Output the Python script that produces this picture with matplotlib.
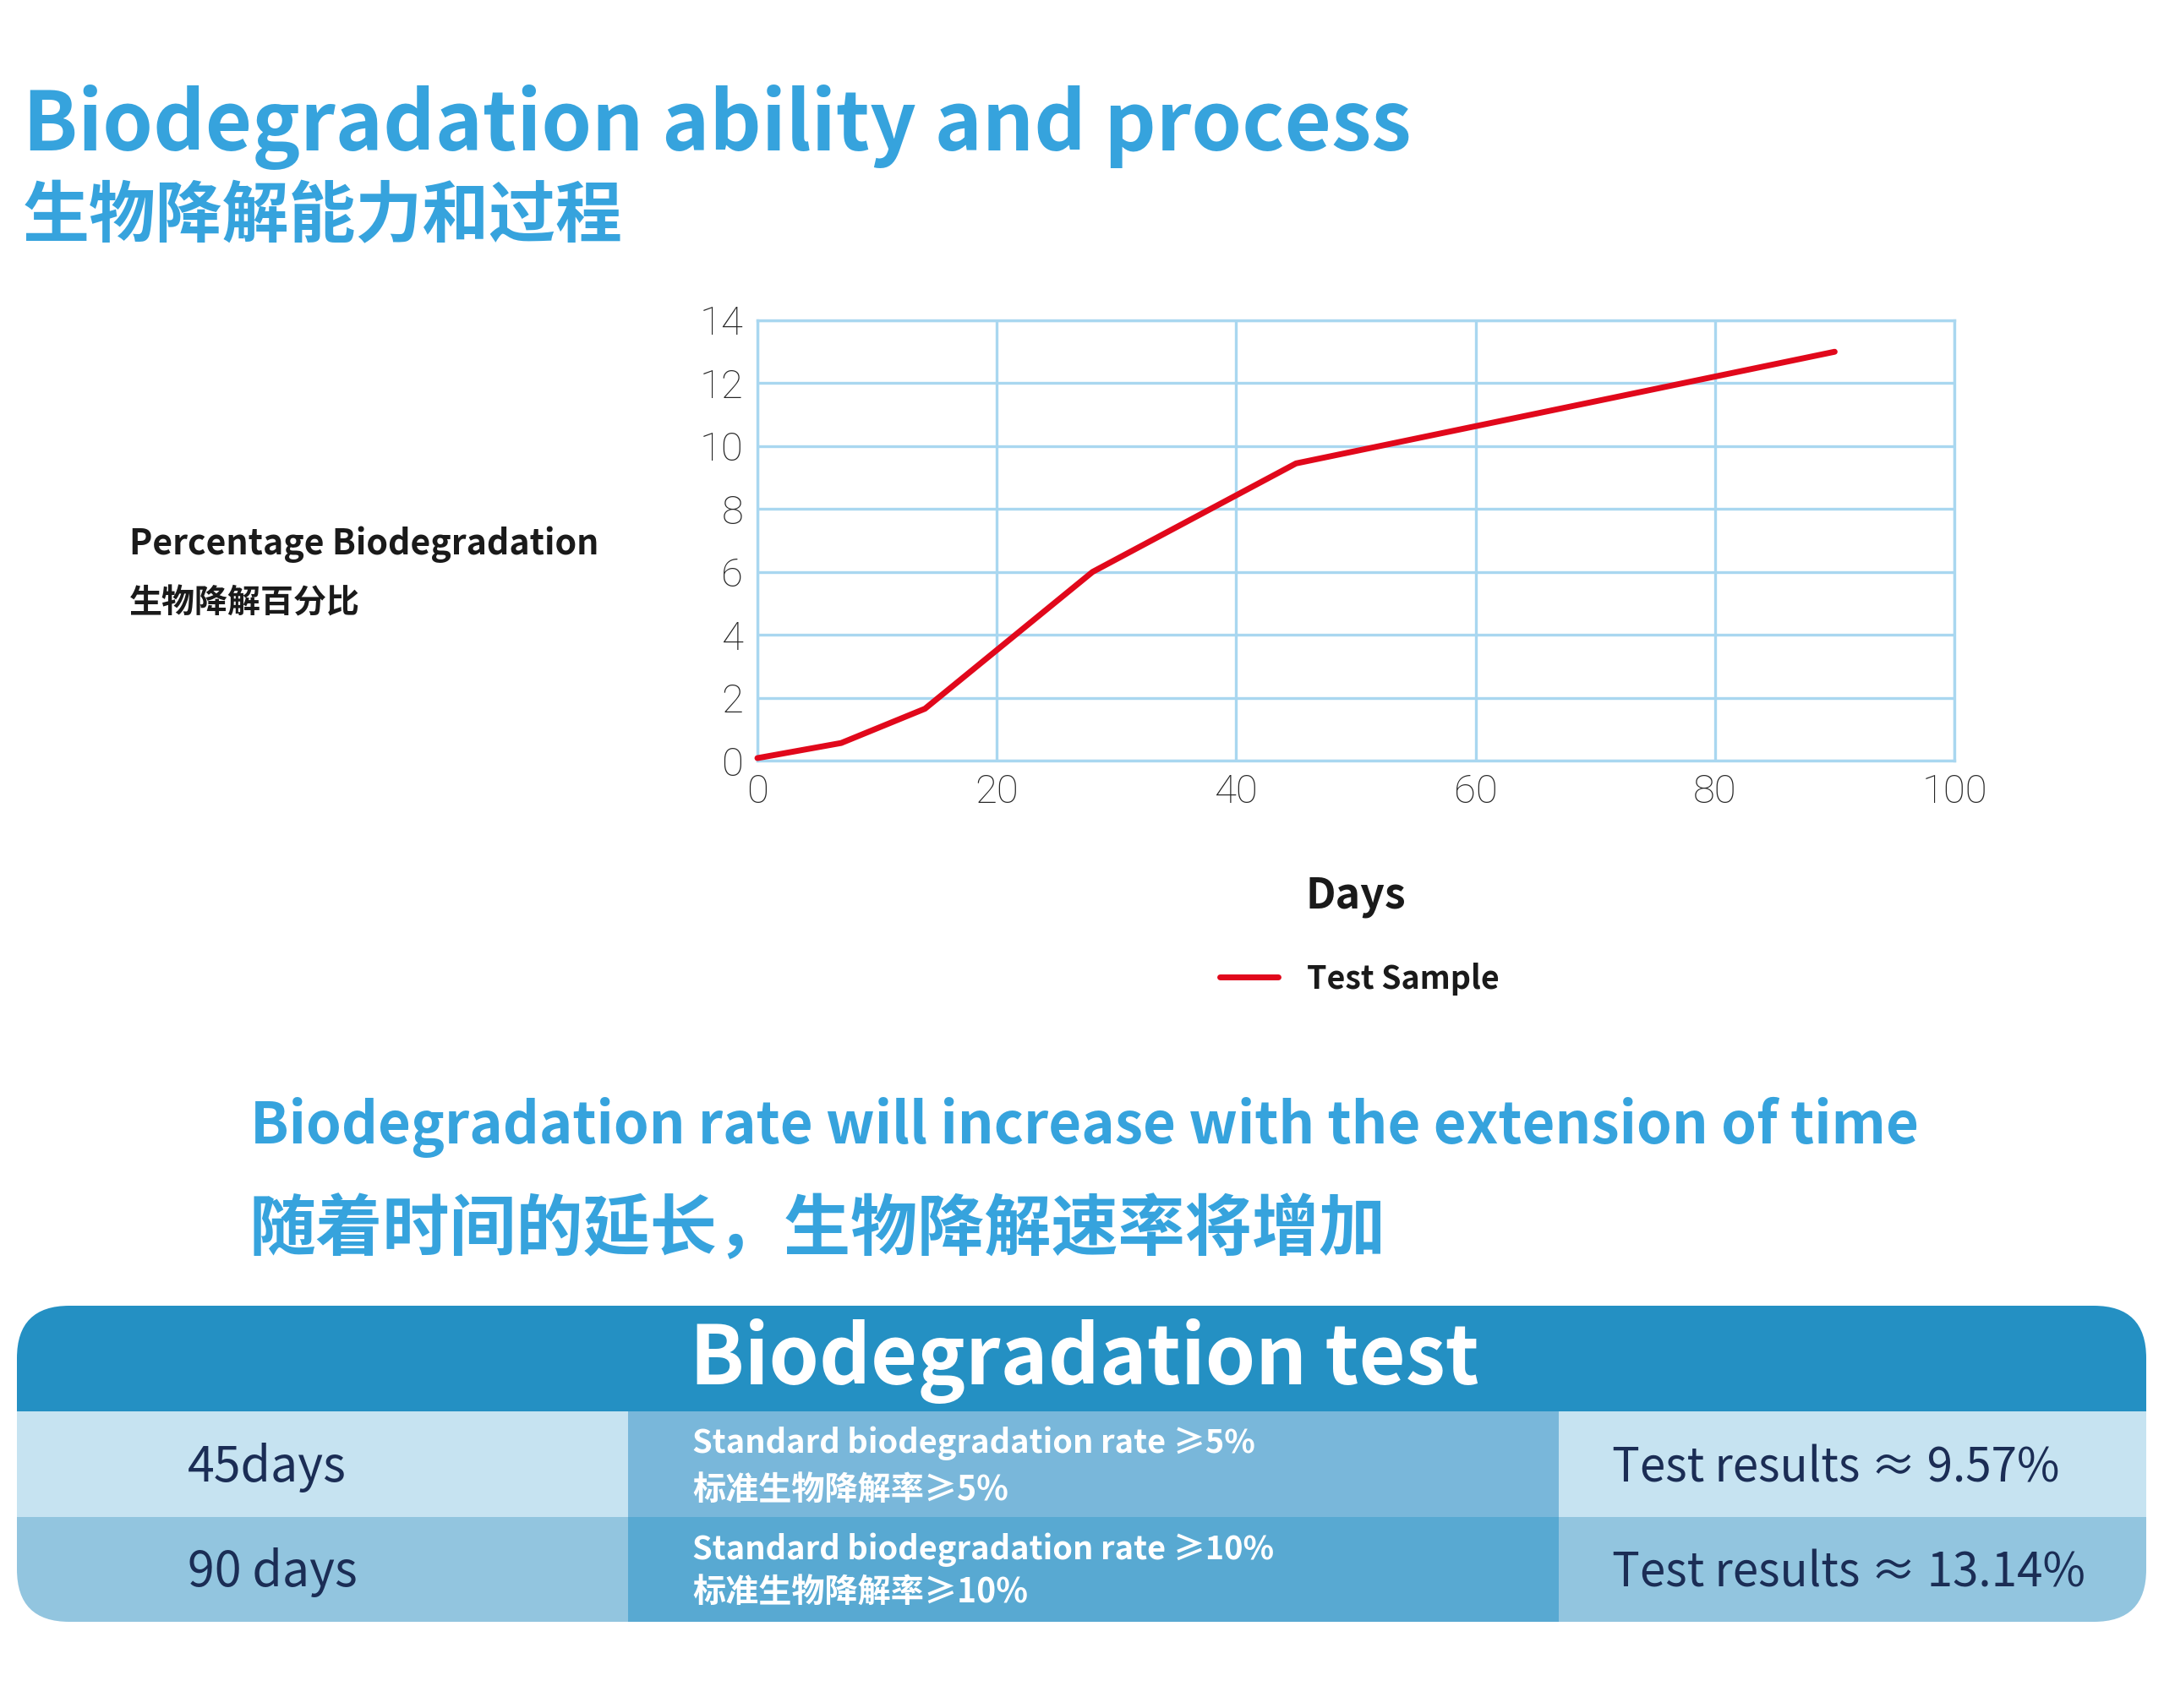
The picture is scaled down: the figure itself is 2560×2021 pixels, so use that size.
import matplotlib
matplotlib.use("Agg")
import matplotlib.pyplot as plt
from matplotlib.patches import FancyBboxPatch, Rectangle

# ---------------- data ----------------
days = [0, 7, 14, 28, 45, 90]
biodeg = [0.08, 0.56, 1.65, 6.0, 9.45, 13.0]
x_ticks = [0, 20, 40, 60, 80, 100]
y_ticks = [0, 2, 4, 6, 8, 10, 12, 14]

title_en = "Biodegradation ability and process"
title_cn = "生物降解能力和过程"
ylabel_en = "Percentage Biodegradation"
ylabel_cn = "生物降解百分比"
xlabel = "Days"
series_name = "Test Sample"
sub_en = "Biodegradation rate will increase with the extension of time"
sub_cn = "随着时间的延长，生物降解速率将增加"
table_title = "Biodegradation test"
periods = ["45days", "90 days"]
standards_en = ["Standard biodegradation rate ≥5%", "Standard biodegradation rate ≥10%"]
standards_cn = ["标准生物降解率≥5%", "标准生物降解率≥10%"]
results = ["Test results ≈ 9.57%", "Test results ≈ 13.14%"]

# ---------------- style ----------------
W, H = 2560, 2021
CJK = ["Noto Sans CJK SC", "DejaVu Sans"]
plt.rcParams["font.family"] = CJK
BLUE = "#36a3dd"
DARK = "#1a1a1a"
NAVY = "#1b2d55"
GRID = "#a9d7f0"
RED = "#e1081b"

fig = plt.figure(figsize=(W / 100, H / 100), dpi=100)
fig.patch.set_facecolor("white")

# overlay axes in pixel coordinates (for free text and table)
ov = fig.add_axes([0, 0, 1, 1])
ov.set_xlim(0, W)
ov.set_ylim(H, 0)
ov.axis("off")

# ---------------- chart ----------------
L, R, T, B = 896, 2312, 379, 900
ax = fig.add_axes([L / W, 1 - B / H, (R - L) / W, (B - T) / H])
ax.plot(days, biodeg, color=RED, lw=5.0, solid_capstyle="round",
        solid_joinstyle="round", label=series_name, clip_on=False, zorder=3)
ax.set_xlim(0, 100)
ax.set_ylim(0, 14)
ax.set_xticks(x_ticks)
ax.set_yticks(y_ticks)
ax.grid(True, color=GRID, lw=2.4)
ax.set_axisbelow(True)
for s in ax.spines.values():
    s.set_color(GRID)
    s.set_linewidth(2.4)
ax.tick_params(length=0, labelsize=34, colors="#262626")
ax.tick_params(axis="x", pad=11)
ax.tick_params(axis="y", pad=12)
for lab in ax.get_xticklabels() + ax.get_yticklabels():
    lab.set_family(["Roboto", "Noto Sans CJK SC", "DejaVu Sans"])
    lab.set_fontweight("light")

ax.set_xlabel(xlabel, fontsize=36, fontweight="bold", color=DARK)
ax.xaxis.set_label_coords(0.5, -(1074 - B) / (B - T))
ax.xaxis.label.set_va("baseline")

leg = fig.legend(loc="center left", bbox_to_anchor=(1443 / W, 1 - 1158 / H),
                 frameon=False, borderpad=0, borderaxespad=0,
                 handlelength=1.85, handletextpad=0.9,
                 prop={"family": CJK, "weight": "bold", "size": 27})
for t in leg.get_texts():
    t.set_color(DARK)

# ---------------- texts ----------------
t_title_en = ov.text(27, 178, title_en, fontsize=70, fontweight="bold",
                     color=BLUE, ha="left", va="baseline")
t_title_cn = ov.text(27, 258, title_cn, fontsize=57, fontweight="bold",
                     color=BLUE, ha="left", va="center")
t_yl_en = ov.text(153, 656, ylabel_en, fontsize=32, fontweight="bold",
                  color=DARK, ha="left", va="baseline")
t_yl_cn = ov.text(153, 714, ylabel_cn, fontsize=28, fontweight="bold",
                  color=DARK, ha="left", va="center")
t_sub_en = ov.text(296, 1353, sub_en, fontsize=50, fontweight="bold",
                   color=BLUE, ha="left", va="baseline")
t_sub_cn = ov.text(294, 1456, sub_cn, fontsize=57, fontweight="bold",
                   color=BLUE, ha="left", va="center")

# ---------------- table ----------------
TX0, TX1 = 20, 2539
TY0, TY1 = 1545, 1919
hdr_bottom, row_div = 1670, 1795
c1, c2 = 743, 1844
clip = FancyBboxPatch((TX0, TY0), TX1 - TX0, TY1 - TY0,
                      boxstyle="round,pad=0,rounding_size=62",
                      facecolor="none", edgecolor="none")
ov.add_patch(clip)
cells = [
    (TX0, TY0, TX1 - TX0, hdr_bottom - TY0, "#2490c3"),
    (TX0, hdr_bottom, c1 - TX0, row_div - hdr_bottom, "#c6e3f1"),
    (c1, hdr_bottom, c2 - c1, row_div - hdr_bottom, "#79b7da"),
    (c2, hdr_bottom, TX1 - c2, row_div - hdr_bottom, "#c6e3f1"),
    (TX0, row_div, c1 - TX0, TY1 - row_div, "#92c5df"),
    (c1, row_div, c2 - c1, TY1 - row_div, "#58a9d2"),
    (c2, row_div, TX1 - c2, TY1 - row_div, "#92c5df"),
]
for x, y, w, h, col in cells:
    r = Rectangle((x, y), w, h, facecolor=col, edgecolor="none")
    ov.add_patch(r)
    r.set_clip_path(clip)

t_tt = ov.text(816, 1638, table_title, fontsize=68, fontweight="bold",
               color="white", ha="left", va="baseline")
row_base = [1753, 1877]
en_base = [1719, 1845]
cn_cent = [1763, 1884]
t_per, t_sen, t_scn, t_res = [], [], [], []
for i in range(2):
    t_per.append(ov.text(222, row_base[i], periods[i], fontsize=42,
                         color=NAVY, ha="left", va="baseline"))
    t_sen.append(ov.text(819, en_base[i], standards_en[i], fontsize=30,
                         fontweight="bold", color="white", ha="left", va="baseline"))
    t_scn.append(ov.text(819, cn_cent[i], standards_cn[i], fontsize=30,
                         fontweight="bold", color="white", ha="left", va="center"))
    t_res.append(ov.text(1907, row_base[i], results[i], fontsize=40,
                         color=NAVY, ha="left", va="baseline"))

# ---------------- fit text widths ----------------
fig.canvas.draw()
rend = fig.canvas.get_renderer()


def fit(t, target, others=()):
    w = t.get_window_extent(renderer=rend).width
    fs = t.get_fontsize() * target / w
    t.set_fontsize(fs)
    for o in others:
        o.set_fontsize(fs)


fit(t_title_en, 1643)
fit(t_title_cn, 710)
fit(t_yl_en, 556)
fit(t_yl_cn, 273)
fit(t_sub_en, 1974)
fit(t_sub_cn, 1344)
fit(t_tt, 934)
fit(t_per[0], 188, [t_per[1]])
fit(t_sen[0], 665, [t_sen[1]])
fit(t_scn[0], 374, [t_scn[1]])
fit(t_res[0], 530, [t_res[1]])

fig.savefig("out.png", dpi=100, facecolor="white")
